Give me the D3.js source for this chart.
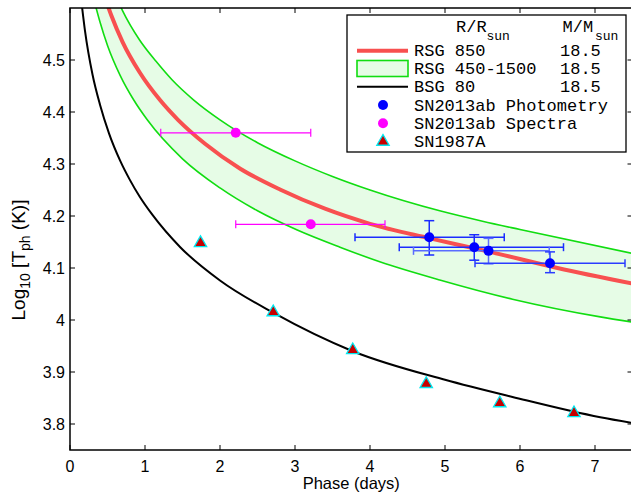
<!DOCTYPE html>
<html><head><meta charset="utf-8">
<script src="https://cdn.jsdelivr.net/npm/d3@7"></script>
<style>body{margin:0;background:#fff}</style>
</head><body>
<svg id="c" width="631" height="493"></svg>
<script>
// ---------- data ----------
const xTicks = [0, 1, 2, 3, 4, 5, 6, 7];
const yTicks = [3.8, 3.9, 4.0, 4.1, 4.2, 4.3, 4.4, 4.5];

// RSG 850 Rsun model curve
const rsg850T = [0.45, 0.55, 0.70, 0.93, 1.2, 1.44, 1.8, 2.27, 2.8, 3.4, 4.0, 4.8, 5.6, 6.5, 7.5];
const rsg850Y = [4.627, 4.586, 4.535, 4.476, 4.423, 4.385, 4.339, 4.291, 4.251, 4.214, 4.185, 4.157, 4.131, 4.100, 4.070];
// RSG 1500 Rsun (upper edge of band)
const rsg1500T = [0.62, 0.70, 0.93, 1.15, 1.36, 1.65, 2.0, 2.5, 3.0, 3.5, 4.0, 4.93, 5.5, 6.0, 7.5];
const rsg1500Y = [4.62, 4.595, 4.538, 4.497, 4.462, 4.423, 4.385, 4.341, 4.306, 4.276, 4.250, 4.210, 4.190, 4.174, 4.128];
// RSG 450 Rsun (lower edge of band)
const rsg450T = [0.33, 0.40, 0.50, 0.67, 0.85, 1.03, 1.5, 2.0, 2.5, 3.03, 3.6, 4.13, 4.93, 5.9, 7.07, 7.5];
const rsg450Y = [4.61, 4.573, 4.528, 4.470, 4.423, 4.385, 4.310, 4.254, 4.210, 4.173, 4.140, 4.112, 4.077, 4.040, 4.006, 3.996];
// BSG 80 Rsun
const bsgT = [0.15, 0.20, 0.30, 0.40, 0.52, 0.67, 0.80, 0.93, 1.1, 1.47, 2.0, 2.71, 3.77, 5.0, 5.9, 7.07, 7.5];
const bsgY = [4.615, 4.556, 4.472, 4.414, 4.359, 4.306, 4.269, 4.237, 4.202, 4.140, 4.076, 4.014, 3.940, 3.885, 3.852, 3.813, 3.802];

// SN2013ab photometry
const photX   = [4.79, 5.39, 5.58, 6.40];
const photY   = [4.159, 4.140, 4.133, 4.109];
const photXLo = [3.80, 4.39, 4.58, 5.40];
const photXHi = [5.79, 6.58, 6.39, 7.40];
const photYLo = [4.125, 4.115, 4.108, 4.091];
const photYHi = [4.191, 4.164, 4.157, 4.131];
// SN2013ab spectra
const specX   = [2.21, 3.21];
const specY   = [4.360, 4.184];
const specXLo = [1.21, 2.21];
const specXHi = [3.21, 4.20];
// SN1987A
const sn87X = [1.74, 2.71, 3.77, 4.75, 5.73, 6.72];
const sn87Y = [4.148, 4.015, 3.942, 3.877, 3.840, 3.821];

const legendLabels = ["RSG 850", "RSG 450-1500", "BSG 80", "SN2013ab Photometry", "SN2013ab Spectra", "SN1987A"];
const legendMass = ["18.5", "18.5", "18.5"];

// ---------- layout ----------
const L = 70, R = 632.5, T = 8, B = 450;
const x = d3.scaleLinear().domain([0, 7.5]).range([L, R]);
const y = d3.scaleLinear().domain([3.75, 4.6]).range([B, T]);

const svg = d3.select("#c");
svg.append("defs").append("clipPath").attr("id", "clip")
  .append("rect").attr("x", L).attr("y", T).attr("width", R - L).attr("height", B - T);

const plot = svg.append("g").attr("clip-path", "url(#clip)");
const zip = (a, b) => a.map((v, i) => [v, b[i]]);
const line = d3.line().x(d => x(d[0])).y(d => y(d[1])).curve(d3.curveMonotoneX);

const up = zip(rsg1500T, rsg1500Y), lo = zip(rsg450T, rsg450Y);
const bandPath = line(up) + "L" + line(lo.slice().reverse()).slice(1) + "Z";
plot.append("path").attr("d", bandPath).attr("fill", "#e6fce6").attr("stroke", "none");
plot.append("path").attr("d", line(up)).attr("fill", "none").attr("stroke", "#11dd11").attr("stroke-width", 1.6);
plot.append("path").attr("d", line(lo)).attr("fill", "none").attr("stroke", "#11dd11").attr("stroke-width", 1.6);
plot.append("path").attr("d", line(zip(rsg850T, rsg850Y))).attr("fill", "none").attr("stroke", "#f85050").attr("stroke-width", 4);
plot.append("path").attr("d", line(zip(bsgT, bsgY))).attr("fill", "none").attr("stroke", "#000").attr("stroke-width", 2);

// spectra error bars
const mag = "#ff00ff";
specX.forEach((v, i) => {
  const g = plot.append("g").attr("stroke", mag).attr("stroke-width", 1.2);
  g.append("line").attr("x1", x(specXLo[i])).attr("x2", x(specXHi[i])).attr("y1", y(specY[i])).attr("y2", y(specY[i]));
  [specXLo[i], specXHi[i]].forEach(e => g.append("line").attr("x1", x(e)).attr("x2", x(e)).attr("y1", y(specY[i]) - 4).attr("y2", y(specY[i]) + 4));
});
// photometry error bars
const blues = ["#1a2cff", "#1a2cff", "#5a6cff", "#2a3cff"];
photX.forEach((v, i) => {
  const g = plot.append("g").attr("stroke", blues[i]).attr("stroke-width", 1.5);
  const cy = y(photY[i]), cx = x(v);
  g.append("line").attr("x1", x(photXLo[i])).attr("x2", x(photXHi[i])).attr("y1", cy).attr("y2", cy);
  [photXLo[i], photXHi[i]].forEach(e => g.append("line").attr("x1", x(e)).attr("x2", x(e)).attr("y1", cy - 4).attr("y2", cy + 4));
  g.append("line").attr("x1", cx).attr("x2", cx).attr("y1", y(photYLo[i])).attr("y2", y(photYHi[i]));
  [photYLo[i], photYHi[i]].forEach(e => g.append("line").attr("x1", cx - 5).attr("x2", cx + 5).attr("y1", y(e)).attr("y2", y(e)));
});
specX.forEach((v, i) => plot.append("circle").attr("cx", x(v)).attr("cy", y(specY[i])).attr("r", 5).attr("fill", mag));
photX.forEach((v, i) => plot.append("circle").attr("cx", x(v)).attr("cy", y(photY[i])).attr("r", 5).attr("fill", "#0000ff"));
const tri = d3.symbol(d3.symbolTriangle).size(66)();
sn87X.forEach((v, i) => plot.append("path").attr("d", tri)
  .attr("transform", `translate(${x(v)},${y(sn87Y[i])})`)
  .attr("fill", "#c80000").attr("stroke", "#00e8f0").attr("stroke-width", 1.3));

// ---------- axes ----------
const ax = svg.append("g");
ax.append("rect").attr("x", L).attr("y", T).attr("width", R - L).attr("height", B - T)
  .attr("fill", "none").attr("stroke", "#000").attr("stroke-width", 1.5);
const tk = ax.append("g").attr("stroke", "#000").attr("stroke-width", 1);
xTicks.forEach(t => {
  tk.append("line").attr("x1", x(t)).attr("x2", x(t)).attr("y1", B).attr("y2", B - 5);
  tk.append("line").attr("x1", x(t)).attr("x2", x(t)).attr("y1", T).attr("y2", T + 5);
});
yTicks.forEach(t => {
  tk.append("line").attr("x1", L).attr("x2", L + 5).attr("y1", y(t)).attr("y2", y(t));
  tk.append("line").attr("x1", R).attr("x2", R - 5).attr("y1", y(t)).attr("y2", y(t));
});
const sans = "'Liberation Sans', Arial, sans-serif";
ax.append("g").selectAll("text").data(xTicks).join("text")
  .attr("x", d => x(d)).attr("y", 472).attr("text-anchor", "middle")
  .attr("font-family", sans).attr("font-size", 16).text(d => d);
ax.append("g").selectAll("text").data(yTicks).join("text")
  .attr("x", 65).attr("y", d => y(d) + 5.7).attr("text-anchor", "end")
  .attr("font-family", sans).attr("font-size", 16).text(d => Math.abs(d - 4) < 1e-9 ? "4" : d.toFixed(1));
ax.append("text").attr("x", (L + R) / 2).attr("y", 488.5).attr("text-anchor", "middle")
  .attr("font-family", sans).attr("font-size", 16.5).text("Phase (days)");
const yl = ax.append("text").attr("transform", "translate(25,260) rotate(-90)").attr("text-anchor", "middle")
  .attr("font-family", sans).attr("font-size", 19);
yl.append("tspan").text("Log");
yl.append("tspan").attr("dy", 5).attr("font-size", 14).text("10");
yl.append("tspan").attr("dy", -5).text(" [T");
yl.append("tspan").attr("dy", 5).attr("font-size", 14).text("ph");
yl.append("tspan").attr("dy", -5).text(" (K)]");

// ---------- legend ----------
const mono = "'Liberation Mono', 'Courier New', monospace";
const lg = svg.append("g");
lg.append("rect").attr("x", 347).attr("y", 15).attr("width", 279).attr("height", 137)
  .attr("fill", "#fff").attr("stroke", "#000").attr("stroke-width", 1.3);
const hdr = (tx, t, sx) => {
  lg.append("text").attr("x", tx).attr("y", 32).attr("font-family", mono).attr("font-size", 17).text(t);
  lg.append("text").attr("x", sx).attr("y", 39.5).attr("font-family", mono).attr("font-size", 13).text("sun");
};
hdr(456, "R/R", 486.5);
hdr(562.5, "M/M", 595);
const rows = [50.7, 68.5, 86.7, 105, 123.3, 141.7];
lg.append("line").attr("x1", 357).attr("x2", 408).attr("y1", rows[0]).attr("y2", rows[0]).attr("stroke", "#f85050").attr("stroke-width", 4);
lg.append("rect").attr("x", 357).attr("y", rows[1] - 8).attr("width", 51).attr("height", 16).attr("fill", "#e6fce6").attr("stroke", "#11dd11").attr("stroke-width", 1.6);
lg.append("line").attr("x1", 357).attr("x2", 408).attr("y1", rows[2]).attr("y2", rows[2]).attr("stroke", "#000").attr("stroke-width", 2);
lg.append("circle").attr("cx", 383).attr("cy", rows[3]).attr("r", 5).attr("fill", "#0000ff");
lg.append("circle").attr("cx", 383).attr("cy", rows[4]).attr("r", 5).attr("fill", mag);
lg.append("path").attr("d", tri).attr("transform", `translate(383,${rows[5]})`)
  .attr("fill", "#c80000").attr("stroke", "#00e8f0").attr("stroke-width", 1.3);
legendLabels.forEach((t, i) => lg.append("text").attr("x", 414).attr("y", rows[i] + 5.5)
  .attr("font-family", mono).attr("font-size", 17).text(t));
legendMass.forEach((t, i) => lg.append("text").attr("x", 560).attr("y", rows[i] + 5.5)
  .attr("font-family", mono).attr("font-size", 17).text(t));
</script>
</body></html>
